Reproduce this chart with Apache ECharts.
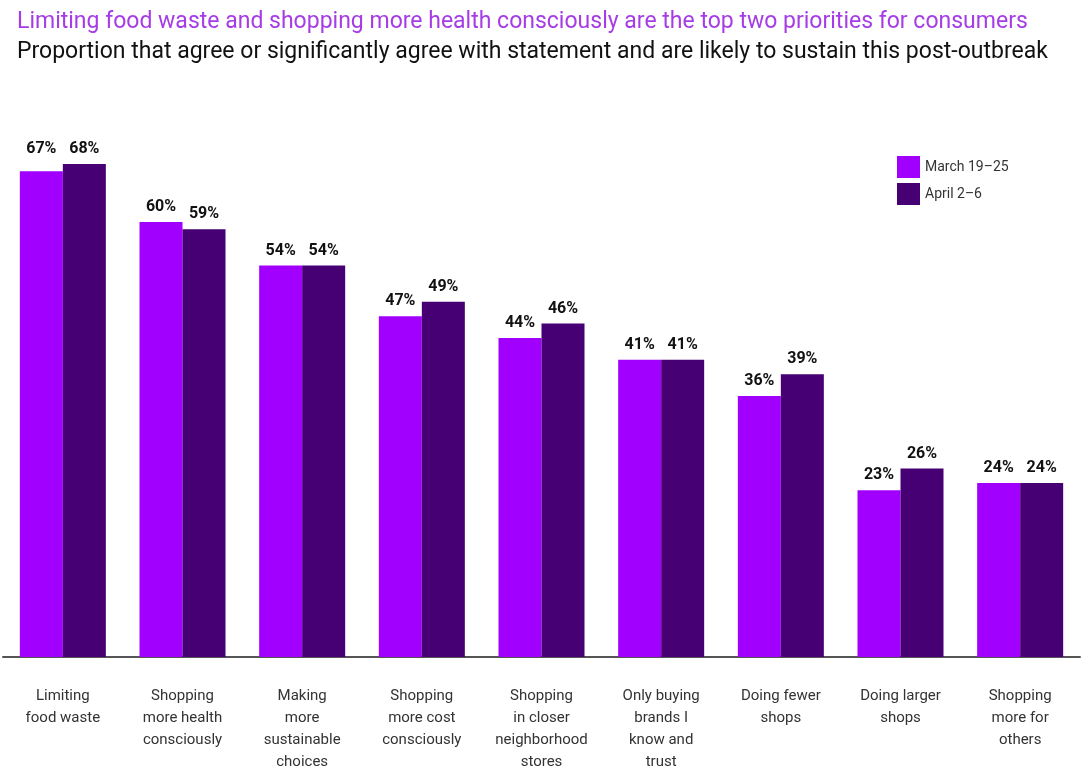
<!DOCTYPE html>
<html>
<head>
<meta charset="utf-8">
<script src="https://cdn.jsdelivr.net/npm/echarts@6/dist/echarts.min.js"></script>
<style>
  html, body { margin: 0; padding: 0; background: #fff; }
  #main { width: 1086px; height: 773px; }
</style>
</head>
<body>
<div id="main"></div>
<script>
const categories = [
  'Limiting\nfood waste',
  'Shopping\nmore health\nconsciously',
  'Making\nmore\nsustainable\nchoices',
  'Shopping\nmore cost\nconsciously',
  'Shopping\nin closer\nneighborhood\nstores',
  'Only buying\nbrands I\nknow and\ntrust',
  'Doing fewer\nshops',
  'Doing larger\nshops',
  'Shopping\nmore for\nothers'
];
const march = [67, 60, 54, 47, 44, 41, 36, 23, 24];
const april = [68, 59, 54, 49, 46, 41, 39, 26, 24];

const chart = echarts.init(document.getElementById('main'));

const labelStyle = {
  show: true,
  position: 'top',
  distance: 7,
  formatter: '{c}%',
  color: '#111',
  fontWeight: 'bold',
  fontSize: 16,
  fontFamily: 'Roboto'
};

// in the first group the March label sits level with the April one
const marchData = march.map((v, i) => i === 0
  ? { value: v, label: { offset: [0, -(april[i] - v) * 7.3] } }
  : v);

chart.setOption({
  animation: false,
  title: [
    {
      text: 'Limiting food waste and shopping more health consciously are the top two priorities for consumers',
      left: 12, top: 6,
      textStyle: { color: '#a63ce6', fontSize: 23, fontWeight: 'normal', fontFamily: 'Roboto' }
    },
    {
      text: 'Proportion that agree or significantly agree with statement and are likely to sustain this post-outbreak',
      left: 12, top: 36,
      textStyle: { color: '#111', fontSize: 23, fontWeight: 'normal', fontFamily: 'Roboto' }
    }
  ],
  legend: {
    orient: 'vertical',
    left: 892, top: 151,
    itemWidth: 23, itemHeight: 22, itemGap: 5,
    icon: 'rect',
    textStyle: { color: '#333', fontSize: 14, fontFamily: 'Roboto' },
    data: ['March 19–25', 'April 2–6']
  },
  grid: { left: 3, right: 6, top: 77, bottom: 111, containLabel: false },
  xAxis: {
    type: 'category',
    data: categories,
    axisLine: { lineStyle: { color: '#555', width: 2 } },
    axisTick: { show: false },
    axisLabel: {
      interval: 0,
      margin: 28,
      color: '#333',
      fontSize: 15,
      lineHeight: 22,
      fontFamily: 'Roboto'
    }
  },
  yAxis: {
    type: 'value',
    min: 0, max: 80,
    show: false,
    splitLine: { show: false }
  },
  series: [
    {
      name: 'March 19–25',
      type: 'bar',
      data: marchData,
      barWidth: 43,
      barGap: '0%',
      itemStyle: { color: '#a100ff' },
      label: labelStyle
    },
    {
      name: 'April 2–6',
      type: 'bar',
      data: april,
      barWidth: 43,
      itemStyle: { color: '#460073' },
      label: labelStyle
    }
  ]
});
</script>
</body>
</html>
